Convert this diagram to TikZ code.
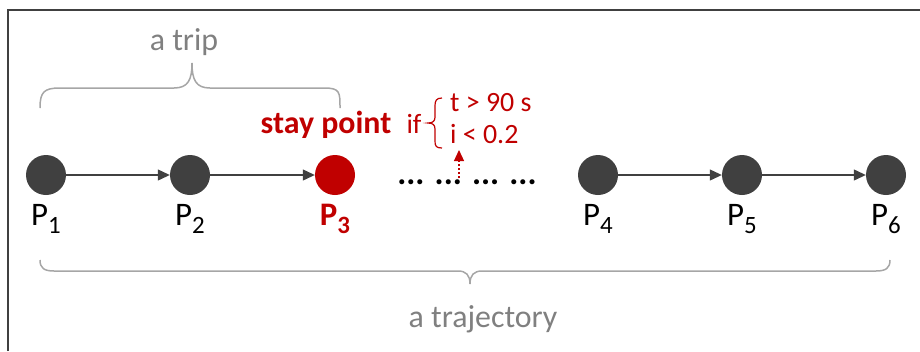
\documentclass[tikz,border=0pt]{standalone}
\usepackage{fontspec}
\setmainfont{Carlito}
\usetikzlibrary{arrows.meta}
\definecolor{dk}{RGB}{64,64,64}
\definecolor{rd}{RGB}{192,0,0}
\definecolor{gt}{RGB}{128,128,128}
\definecolor{gb}{RGB}{166,166,166}
\newcommand{\plab}[1]{P\raisebox{-8bp}{\fontsize{25}{25}\selectfont #1}}
\begin{document}
\begin{tikzpicture}[x=1bp,y=-1bp,
  pt/.style={circle,fill=dk,minimum size=40bp,inner sep=0},
  ptred/.style={circle,fill=rd,minimum size=40bp,inner sep=0},
  lab/.style={anchor=base,inner sep=0,font=\fontsize{33}{36}\selectfont},
  gtext/.style={anchor=base,inner sep=0,text=gt,font=\fontsize{32}{36}\selectfont},
  rtext/.style={anchor=base west,inner sep=0,text=rd,font=\fontsize{28}{30}\selectfont},
  link/.style={draw=dk,line width=1.2bp,-{Triangle[length=12bp,width=11bp]}},
  brace/.style={draw=gb,line width=1.5bp},
  frame/.style={draw=dk,line width=2bp}]
\useasboundingbox (0,0) rectangle (920,351);
\draw[frame] (8,351) -- (8,10) -- (920,10);
% points
\node[pt] (p1) at (46,175) {};
\node[pt] (p2) at (190,175) {};
\node[ptred] (p3) at (335,175) {};
\node[pt] (p4) at (598,175) {};
\node[pt] (p5) at (742,175) {};
\node[pt] (p6) at (886,175) {};
\draw[link] (p1) -- (p2);
\draw[link] (p2) -- (p3);
\draw[link] (p4) -- (p5);
\draw[link] (p5) -- (p6);
% labels
\node[lab] (l1) at (46,225) {\plab{1}};
\node[lab] (l2) at (190,225) {\plab{2}};
\node[lab,text=rd,font=\fontsize{33}{36}\selectfont\bfseries] (l3) at (335,225) {\plab{3}};
\node[lab] (l4) at (598,225) {\plab{4}};
\node[lab] (l5) at (742,225) {\plab{5}};
\node[lab] (l6) at (886,225) {\plab{6}};
% dots
\node[anchor=base,inner sep=0,font=\fontsize{34}{36}\selectfont\bfseries] (dots) at (467,184) {... ... ... ...};
\coordinate (dt) at (459,178);
% stay point
\node[anchor=base,inner sep=0,text=rd,font=\fontsize{32}{34}\selectfont\bfseries] (sp) at (326,133) {stay point};
\node[anchor=base,inner sep=0,text=rd,font=\fontsize{28}{30}\selectfont] (if) at (414,133) {if};
\node[rtext] (c1) at (450,111) {t > 90 s};
\node[rtext] (c2) at (450,143) {i < 0.2};
\coordinate (ct) at (459,150);
\draw[draw=rd,line width=1.2bp] (442,98) .. controls (436,98) and (435,101) .. (435,106) -- (435,117)
  .. controls (435,121) and (433,123) .. (428,123) .. controls (433,123) and (435,125) .. (435,129)
  -- (435,141) .. controls (435,146) and (436,148) .. (442,148);
\draw[draw=rd,line width=1.2bp,dash pattern=on 2bp off 2bp,-{Triangle[length=11bp,width=10bp]}] (dt) -- (ct);
% trip brace
\draw[brace] (40,108) .. controls (40,92) and (44,88) .. (60,88) -- (174,88)
  .. controls (188,88) and (192,80) .. (192,63)
  .. controls (192,80) and (196,88) .. (210,88) -- (324,88)
  .. controls (340,88) and (340,92) .. (340,108);
\node[gtext] (trip) at (184,50) {a trip};
% trajectory brace
\draw[brace] (40,260) .. controls (40,268) and (44,271) .. (54,271) -- (458,271)
  .. controls (466,271) and (470,275) .. (470,284)
  .. controls (470,275) and (474,271) .. (482,271) -- (876,271)
  .. controls (886,271) and (890,268) .. (890,260);
\node[gtext] (traj) at (483,327) {a trajectory};
\end{tikzpicture}
\end{document}
